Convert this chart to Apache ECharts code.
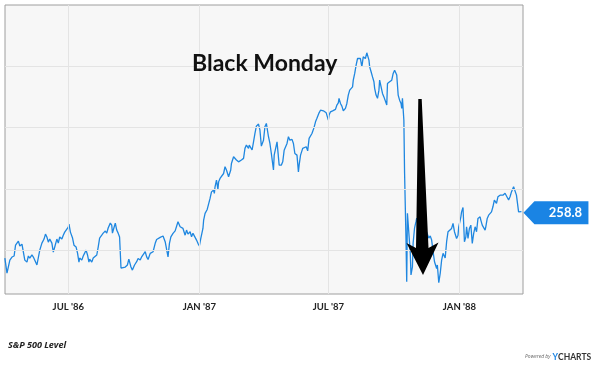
<!DOCTYPE html>
<html><head><meta charset="utf-8">
<script src="https://cdn.jsdelivr.net/npm/echarts@6/dist/echarts.min.js"></script>
<style>html,body{margin:0;padding:0;background:#fff}#c{width:600px;height:371px}</style>
</head><body><div id="c"></div>
<script>
// x = trading day offset in days since 1986-04-01, y = S&P 500 close
const seriesName = 'S&P 500 Level';
const spx = [
[2,236.1],[5,228.7],[7,228.3],[9,235.1],[12,236.6],[15,237.1],[17,242.4],[19,243.4],[21,244.4],[23,242.0],
[26,242.9],[28,242.4],[30,235.1],[33,234.1],[35,237.1],[37,236.1],[40,237.6],[42,236.6],[44,236.1],[47,232.7],
[49,233.6],[51,240.0],[54,243.4],[57,245.4],[59,247.8],[61,246.4],[63,243.9],[65,245.4],[68,243.4],[70,239.0],
[72,241.5],[75,245.4],[77,243.4],[79,246.4],[82,245.4],[84,247.3],[86,248.8],[89,250.3],[91,251.3],[92,252.7],
[94,248.8],[97,245.9],[99,242.4],[102,241.5],[104,238.5],[106,234.1],[107,236.1],[110,235.1],[112,237.1],[114,238.5],
[116,240.0],[118,237.6],[120,234.1],[121,235.6],[124,234.1],[126,236.1],[128,236.6],[131,237.6],[133,241.5],[135,245.9],
[138,247.3],[140,248.3],[143,249.3],[145,248.3],[147,250.8],[150,253.2],[152,252.2],[153,248.3],[155,250.8],[157,253.2],
[159,249.8],[161,248.3],[163,246.4],[165,231.2],[167,231.2],[171,231.7],[174,232.7],[176,235.6],[179,231.7],[181,230.2],
[184,232.7],[185,233.1],[187,234.3],[189,235.9],[192,235.1],[194,236.7],[196,235.9],[199,239.2],[201,236.7],[203,235.4],
[206,238.4],[208,238.0],[210,239.2],[213,243.3],[215,245.2],[217,245.7],[220,246.2],[222,245.7],[224,246.9],[227,244.1],
[229,243.3],[231,236.7],[233,243.3],[235,246.5],[238,248.2],[241,249.4],[243,249.0],[245,253.9],[248,251.4],[250,250.6],
[252,250.6],[255,247.3],[257,249.8],[259,247.8],[262,249.0],[264,246.5],[266,248.2],[269,246.2],[271,244.9],[273,243.3],
[275,242.0],[277,245.7],[280,250.6],[281,254.7],[283,258.0],[286,259.9],[288,260.4],[290,265.3],[292,268.5],[295,269.4],
[296,267.8],[297,271.0],[299,274.3],[301,269.7],[302,273.4],[304,275.1],[306,274.3],[309,277.5],[311,280.8],[313,279.2],
[316,275.9],[317,275.1],[319,279.2],[320,282.4],[323,285.7],[325,284.9],[327,284.1],[330,283.2],[332,284.1],[334,284.1],
[337,284.9],[339,289.8],[341,291.4],[344,289.8],[345,291.4],[347,290.6],[349,289.0],[351,293.0],[353,297.1],[355,300.7],
[358,301.7],[360,298.7],[362,290.9],[365,293.8],[367,300.4],[369,302.0],[372,295.5],[374,292.2],[376,287.3],[379,279.2],
[380,286.5],[382,285.7],[384,293.0],[387,281.6],[390,281.6],[392,283.2],[394,288.9],[396,289.8],[398,292.2],[400,295.5],
[402,293.8],[405,294.2],[407,292.2],[409,287.3],[412,286.5],[414,278.3],[415,281.6],[417,286.5],[420,289.8],[422,289.0],
[425,290.6],[427,288.6],[429,294.7],[431,294.2],[433,297.1],[436,300.1],[438,302.8],[440,304.5],[443,307.2],[445,308.5],
[447,309.4],[449,308.2],[451,308.2],[453,307.2],[456,303.6],[457,306.1],[459,307.7],[462,308.2],[464,308.5],[466,308.9],
[468,311.0],[470,312.1],[471,314.3],[473,311.8],[475,310.5],[477,308.2],[480,309.4],[482,311.8],[484,315.9],[486,318.3],
[488,318.0],[490,319.9],[491,323.2],[493,326.5],[495,330.6],[497,333.8],[499,334.6],[501,333.8],[503,329.7],[505,334.6],
[507,335.5],[508,333.8],[510,336.6],[513,333.0],[514,329.7],[516,327.3],[518,324.8],[520,322.4],[521,319.2],[523,315.9],
[525,314.3],[527,318.3],[528,323.2],[530,322.4],[532,316.7],[534,315.0],[536,314.3],[538,311.0],[539,321.6],[542,322.4],
[543,321.6],[545,323.2],[547,326.5],[549,328.1],[551,328.5],[552,325.7],[554,315.9],[556,313.4],[558,311.8],[559,309.4],
[560,314.3],[562,303.6],[563,277.7],[565,244.9],[566,224.5],[567,258.0],[569,248.3],[571,238.5],[572,227.8],[574,231.8],
[575,243.4],[577,250.8],[579,253.9],[580,255.7],[582,251.7],[585,248.3],[588,250.8],[591,246.9],[594,248.8],[597,245.9],
[599,246.9],[601,244.9],[603,239.2],[605,234.3],[608,231.0],[609,232.7],[611,224.0],[613,228.6],[615,235.1],[617,238.4],
[620,236.1],[622,244.1],[624,249.0],[626,248.2],[629,250.6],[631,253.1],[633,249.0],[636,245.7],[638,247.3],[639,251.4],
[642,256.3],[643,258.7],[645,260.9],[647,244.1],[649,246.5],[650,251.4],[652,245.7],[654,250.6],[656,252.2],[658,243.3],
[660,248.2],[662,251.4],[664,249.0],[666,255.5],[669,256.3],[670,254.7],[672,252.2],[674,253.1],[676,249.8],[677,251.4],
[679,255.5],[681,257.1],[683,258.0],[685,258.7],[687,261.2],[689,264.5],[692,262.9],[694,266.1],[697,266.9],[699,267.8],
[701,266.9],[704,267.8],[706,266.9],[709,264.5],[711,266.1],[713,268.5],[716,271.0],[718,270.2],[720,266.9],[723,258.7],
[725,258.3],[727,258.8]
];
const tickDays = [91, 275, 456, 640];
const tickLabels = ["JUL '86", "JAN '87", "JUL '87", "JAN '88"];
const gridValues = [240, 270, 300, 330];
const xRange = [2.2, 729.2];
const yRange = [218.5, 360];
const annotationText = 'Black Monday';
const footerText = 'S&P 500 Level';

const last = spx[spx.length - 1];
const blue = '#1f87e0';

const chart = echarts.init(document.getElementById('c'), null, {renderer: 'canvas'});
const gridLines = gridValues.map(v => ({yAxis: v, label: {show: false}}));
const tickLines = tickDays.map((d, i) => ({
  xAxis: d,
  label: {show: true, position: 'start', distance: 8, formatter: tickLabels[i],
    color: '#222', fontSize: 9.5, fontWeight: 'bold', fontFamily: 'Lato'}
}));

chart.setOption({
  animation: false,
  grid: {left: 5, right: 77, top: 5, bottom: 77, show: true,
    backgroundColor: '#f7f7f7', borderColor: '#9e9e9e', borderWidth: 1},
  xAxis: {type: 'value', min: xRange[0], max: xRange[1], show: false},
  yAxis: {type: 'value', min: yRange[0], max: yRange[1], show: false},
  series: [
    {type: 'line', data: spx, silent: true, symbol: 'none', z: 1,
      lineStyle: {opacity: 0},
      markLine: {silent: true, symbol: 'none', animation: false,
        lineStyle: {color: '#e4e4e4', width: 1, type: 'solid'},
        emphasis: {disabled: true},
        data: gridLines.concat(tickLines)}},
    {type: 'line', name: seriesName, data: spx, symbol: 'none', z: 3,
      lineStyle: {color: blue, width: 1.3},
      markPoint: {silent: true, animation: false,
        symbol: 'path://M0,11.5L11,0L65,0L65,23L11,23Z',
        symbolSize: [65, 23], symbolKeepAspect: false, symbolOffset: [34.5, 1],
        itemStyle: {color: '#1a84e4'},
        label: {show: true, position: 'inside', offset: [9.5, 0], color: '#fff',
          fontSize: 13, fontWeight: 'bold', fontFamily: 'Lato',
          formatter: p => p.value.toFixed(1)},
        data: [{coord: last, value: last[1]}]}}
  ],
  graphic: [
    {type: 'text', left: 192, top: 52, z: 10,
      style: {text: annotationText, font: 'bold 23px Lato', fill: '#111'}},
    {type: 'polygon', z: 10,
      shape: {points: [[418.3, 99], [421.7, 99], [428.5, 248], [438.5, 242.5], [423, 275], [406.5, 243], [416, 248]]},
      style: {fill: '#000'}},
    {type: 'text', left: 8, top: 341,
      style: {text: footerText, font: 'italic bold 9px "Open Sans"', fill: '#222'}},
    {type: 'text', left: 525, top: 354,
      style: {text: 'Powered by', font: 'italic 5px "Open Sans"', fill: '#666'}},
    {type: 'text', left: 552.5, top: 353,
      style: {text: '{a|Y}{b|CHARTS}', rich: {
        a: {font: 'bold 8.5px Lato', fill: '#1a84e4'},
        b: {font: 'bold 8.5px Lato', fill: '#333'}}}}
  ]
});
</script></body></html>
